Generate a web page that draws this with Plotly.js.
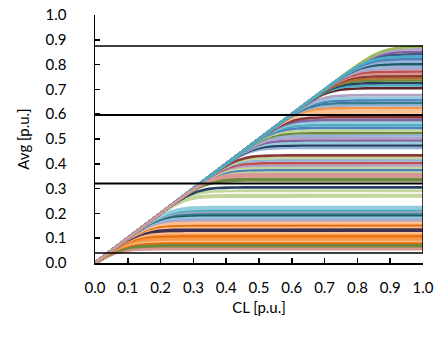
<!DOCTYPE html>
<html>
<head>
<meta charset="utf-8">
<script src="https://cdn.plot.ly/plotly-3.0.1.min.js"></script>
<style>
html,body{margin:0;padding:0;background:#fff;}
#chart{width:436px;height:343px;}
</style>
</head>
<body>
<div id="chart"></div>
<script>
// Axis ticks
const xTickVals = [0,0.1,0.2,0.3,0.4,0.5,0.6,0.7,0.8,0.9,1.0];
const xTickText = ['0.0','0.1','0.2','0.3','0.4','0.5','0.6','0.7','0.8','0.9','1.0'];
const yTickVals = [0,0.1,0.2,0.3,0.4,0.5,0.6,0.7,0.8,0.9,1.0];
const yTickText = ['0.0','0.1','0.2','0.3','0.4','0.5','0.6','0.7','0.8','0.9','1.0'];

// Plateau level (Avg value reached at CL = 1) of each curve, in drawing order
const saturationLevels = [
  0.056,0.062,0.068,0.074,0.082,0.089,0.095,0.102,0.109,0.116,0.122,0.130,0.137,0.145,0.152,0.160,
  0.166,0.173,0.180,0.187,0.193,0.199,0.206,0.213,0.220,0.226,0.268,0.274,0.291,0.305,
  0.333,0.340,0.350,0.366,0.375,0.384,0.393,0.403,0.414,0.424,0.434,
  0.464,0.474,0.484,0.494,0.504,0.514,0.524,0.534,0.545,0.556,0.567,0.577,0.588,
  0.607,0.615,0.625,0.635,0.645,0.656,0.666,0.677,
  0.705,0.716,0.726,0.736,0.745,0.754,0.763,0.772,0.782,0.792,0.802,0.812,0.822,0.842,0.852,0.862,0.872,
  0.832,0.358
];
// Series colours (same order)
const seriesColors = [
  '#D99694','#D99694','#71893F','#71893F','#E46C0A','#FAC090','#F79646','#F79646','#E46C0A','#F79646','#FAC090','#403152','#403152','#FAC090','#E46C0A','#FAC090',
  '#FAC090','#B3A2C7','#95B3D7','#93CDDD','#215968','#357D91','#A6A6B8','#4BACC6','#93CDDD','#93CDDD','#C3D69B','#C3D69B','#C3D69B','#254061',
  '#71893F','#71893F','#D99694','#C3D69B','#4F81BD','#C3D69B','#B3A2C7','#C0504D','#95B3D7','#C3D69B','#8C3836',
  '#95B3D7','#254061','#93CDDD','#8064A2','#B3A2C7','#95B3D7','#71893F','#C3D69B','#4F81BD','#4BACC6','#93CDDD','#8064A2','#8C3836',
  '#FAC090','#FAC090','#F79646','#95B3D7','#357D91','#4F81BD','#93CDDD','#B3A2C7',
  '#632523','#4BACC6','#254061','#71893F','#B66D31','#8C3836','#D99694','#C0504D','#B3A2C7','#95B3D7','#215968','#95B3D7','#4F81BD','#385D8A','#8064A2','#B3A2C7','#9BBB59',
  '#4BACC6','#D99694'
];

// Knee shape: offsets from the knee point (level, level), in p.u.
const kneeDX = [-0.16,-0.12,-0.09,-0.07,-0.05,-0.035,-0.02,-0.01,0,0.01,0.02,0.035,0.05,0.07,0.1,0.15];
const kneeDY = [-0.1601,-0.1205,-0.0915,-0.0728,-0.0552,-0.0431,-0.0324,-0.0262,-0.0208,-0.0162,-0.0124,-0.0081,-0.0052,-0.0028,-0.0011,-0.0002];

// Black frame lines
const frameLevels = [0.875,0.597,0.321,0.04];
const frameWidths = [1.5,2,2,1.5];
const frameRightX = 1.0;

const traces = [];
saturationLevels.forEach((s,i)=>{
  const xs=[0], ys=[0];
  kneeDX.forEach((dx,k)=>{
    const x=s+dx, y=s+kneeDY[k];
    if(x>0.004 && x<1 && y>0){ xs.push(x); ys.push(y); }
  });
  xs.push(1); ys.push(s);
  traces.push({x:xs,y:ys,type:'scatter',mode:'lines',
    line:{color:seriesColors[i],width:2.6,shape:'spline',smoothing:0.5},hoverinfo:'skip',showlegend:false,cliponaxis:false});
});
frameLevels.forEach((lv,i)=>{
  traces.push({x:[0,frameRightX],y:[lv,lv],type:'scatter',mode:'lines',
    line:{color:'#000',width:frameWidths[i]},hoverinfo:'skip',showlegend:false,cliponaxis:false});
});
traces.push({x:[frameRightX,frameRightX],y:[frameLevels[frameLevels.length-1],frameLevels[0]],type:'scatter',mode:'lines',
  line:{color:'#000',width:1.5},hoverinfo:'skip',showlegend:false,cliponaxis:false});

const fnt = {family:'Lato, "Open Sans", sans-serif', size:15, color:'#000'};
const layout = {
  width:436, height:343,
  margin:{l:95,r:13,t:15,b:80},
  paper_bgcolor:'#fff', plot_bgcolor:'#fff',
  showlegend:false,
  font:fnt,
  xaxis:{range:[0,1],tickvals:xTickVals,ticktext:xTickText,ticks:'inside',ticklen:5,tickwidth:1.5,tickcolor:'#000',
    showline:true,linecolor:'#000',linewidth:1.5,showgrid:false,zeroline:false,
    ticklabelstandoff:10,tickfont:fnt,
    title:{text:'CL [p.u.]',font:fnt,standoff:8}},
  yaxis:{range:[0,1],tickvals:yTickVals,ticktext:yTickText,ticks:'inside',ticklen:5,tickwidth:1.5,tickcolor:'#000',
    showline:true,linecolor:'#000',linewidth:1.5,showgrid:false,zeroline:false,
    ticklabelstandoff:24,tickfont:fnt,
    title:{text:'Avg [p.u.]',font:fnt,standoff:12}}
};
Plotly.newPlot('chart',traces,layout,{staticPlot:true,displayModeBar:false});
</script>
</body>
</html>
